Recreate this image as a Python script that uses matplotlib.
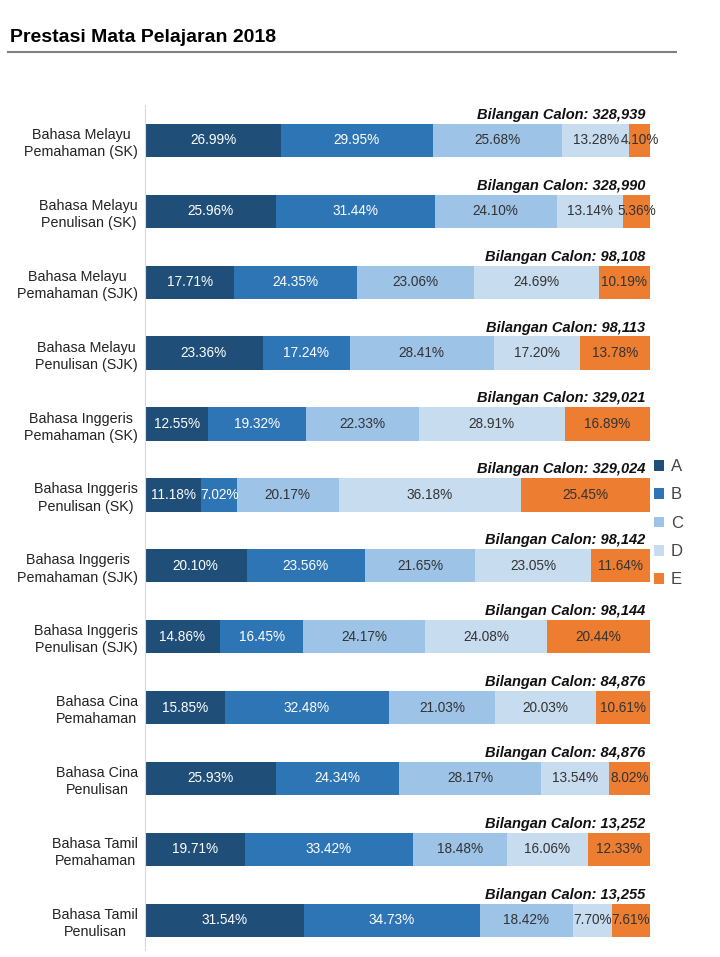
import numpy as np
import matplotlib
matplotlib.use('Agg')
import matplotlib.pyplot as plt

plt.rcParams['font.family'] = ['Liberation Sans', 'DejaVu Sans']

subjects = ["Bahasa Melayu\nPemahaman (SK)", "Bahasa Melayu\nPenulisan (SK)",
            "Bahasa Melayu\nPemahaman (SJK)", "Bahasa Melayu\nPenulisan (SJK)",
            "Bahasa Inggeris\nPemahaman (SK)", "Bahasa Inggeris\nPenulisan (SK)",
            "Bahasa Inggeris\nPemahaman (SJK)", "Bahasa Inggeris\nPenulisan (SJK)",
            "Bahasa Cina\nPemahaman", "Bahasa Cina\nPenulisan",
            "Bahasa Tamil\nPemahaman", "Bahasa Tamil\nPenulisan"]
grades = ["A", "B", "C", "D", "E"]
grade_a = [26.99, 25.96, 17.71, 23.36, 12.55, 11.18, 20.10, 14.86, 15.85, 25.93, 19.71, 31.54]
grade_b = [29.95, 31.44, 24.35, 17.24, 19.32, 7.02, 23.56, 16.45, 32.48, 24.34, 33.42, 34.73]
grade_c = [25.68, 24.10, 23.06, 28.41, 22.33, 20.17, 21.65, 24.17, 21.03, 28.17, 18.48, 18.42]
grade_d = [13.28, 13.14, 24.69, 17.20, 28.91, 36.18, 23.05, 24.08, 20.03, 13.54, 16.06, 7.70]
grade_e = [4.10, 5.36, 10.19, 13.78, 16.89, 25.45, 11.64, 20.44, 10.61, 8.02, 12.33, 7.61]
candidates = [328939, 328990, 98108, 98113, 329021, 329024, 98142, 98144,
              84876, 84876, 13252, 13255]

colors = ["#1f4e79", "#2e75b6", "#9dc3e6", "#c8dcf0", "#ed7d31"]
text_colors = ["white", "white", "#333333", "#333333", "#333333"]

fig = plt.figure(figsize=(7.2, 9.57), dpi=100)
ax = fig.add_axes([145 / 720, 7 / 957, 505 / 720, 845 / 957])

y = np.arange(len(subjects))
left = np.zeros(len(subjects))
series = [grade_a, grade_b, grade_c, grade_d, grade_e]
for vals, g, c, tc in zip(series, grades, colors, text_colors):
    vals = np.array(vals)
    ax.barh(y, vals, left=left, height=0.47, color=c, label=g)
    for yi, l, v in zip(y, left, vals):
        ax.text(l + v / 2, yi, f"{v:.2f}%", ha='center', va='center',
                color=tc, fontsize=9.8)
    left += vals

for yi, n in zip(y, candidates):
    ax.text(99, yi - 0.36, f"Bilangan Calon: {n:,}", ha='right', va='center',
            fontsize=10.5, fontweight='bold', style='italic', color='#111111')

ax.set_xlim(0, 100)
ax.set_ylim(11.42, -0.5)
ax.set_yticks(y)
ax.set_yticklabels(subjects, fontsize=10.3, color='#222222', linespacing=1.3,
                   multialignment='center')
ax.tick_params(axis='y', length=0, pad=5)
ax.set_xticks([])
for s in ['top', 'right', 'bottom']:
    ax.spines[s].set_visible(False)
ax.spines['left'].set_color('#d9d9d9')

leg = ax.legend(loc='center left', bbox_to_anchor=(0.995, 0.505), frameon=False,
                fontsize=12, handlelength=0.6, handleheight=0.6,
                labelspacing=0.8, handletextpad=0.4, borderaxespad=0.0)
for t in leg.get_texts():
    t.set_color('#444444')

fig.text(10 / 720, 1 - 38 / 957, "Prestasi Mata Pelajaran 2018", fontsize=14,
         fontweight='bold', va='center', ha='left')
fig.add_artist(plt.Line2D([8 / 720, 676 / 720], [1 - 52 / 957, 1 - 52 / 957],
                          color='#808080', lw=1.5))

fig.savefig("out.png", dpi=100)
